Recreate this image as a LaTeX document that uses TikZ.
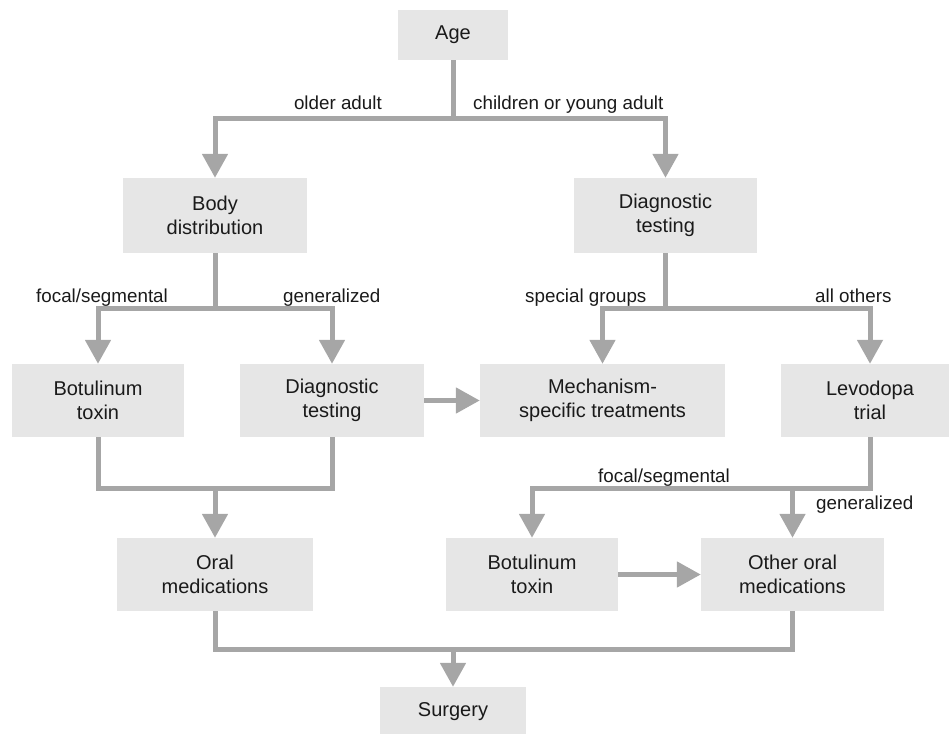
\documentclass[tikz,border=0pt]{standalone}
\usepackage{fontspec}
\setmainfont{Liberation Sans}
\usetikzlibrary{arrows.meta}
\definecolor{boxgray}{HTML}{E6E6E6}
\definecolor{linegray}{HTML}{A6A6A6}
\definecolor{txt}{HTML}{1A1A1A}
\tikzset{
  box/.style={fill=boxgray, inner sep=0pt, align=center, text=txt,
    font=\fontsize{20}{24}\selectfont},
  lbl/.style={inner sep=0pt, text=txt, font=\fontsize{18.8}{22}\selectfont},
  conn/.style={draw=linegray, line width=5pt, line join=miter},
  arr/.style={conn, -{Triangle[width=25pt,length=24pt]}},
}
\begin{document}
\begin{tikzpicture}[x=1pt,y=-1pt]
\useasboundingbox (0,0) rectangle (949,733);
% boxes
\node[box, minimum width=110pt, minimum height=50pt] (age) at (453,35) {Age};
\node[box, minimum width=184pt, minimum height=75pt] (body) at (215,215.5) {Body\\distribution};
\node[box, minimum width=183pt, minimum height=75pt] (diag1) at (665.5,215.5) {Diagnostic\\testing};
\node[box, minimum width=172pt, minimum height=73pt] (botox1) at (98,400.5) {Botulinum\\toxin};
\node[box, minimum width=184pt, minimum height=73pt] (diag2) at (332,400.5) {Diagnostic\\testing};
\node[box, minimum width=245pt, minimum height=73pt] (mech) at (602.5,400.5) {Mechanism-\\specific treatments};
\node[box, minimum width=178pt, minimum height=73pt] (levo) at (870,400.5) {Levodopa\\trial};
\node[box, minimum width=196pt, minimum height=73pt] (oral) at (215,574.5) {Oral\\medications};
\node[box, minimum width=172pt, minimum height=73pt] (botox2) at (532,574.5) {Botulinum\\toxin};
\node[box, minimum width=183pt, minimum height=73pt] (other) at (792.5,574.5) {Other oral\\medications};
\node[box, minimum width=146pt, minimum height=50pt] (surg) at (453,712) {Surgery};
% junctions
\coordinate (j1) at (453,118);
\coordinate (j2) at (215,308);
\coordinate (j3) at (665.5,308);
\coordinate (j4) at (215,488);
\coordinate (j5) at (792.5,488);
\coordinate (j6) at (453,649);
% connectors
\draw[conn] (age.south) -- (j1);
\draw[arr] (j1) -| (body.north);
\draw[arr] (j1) -| (diag1.north);
\draw[conn] (body.south) -- (j2);
\draw[arr] (j2) -| (botox1.north);
\draw[arr] (j2) -| (diag2.north);
\draw[conn] (diag1.south) -- (j3);
\draw[arr] (j3) -| (mech.north);
\draw[arr] (j3) -| (levo.north);
\draw[arr] (diag2.east) -- (mech.west);
\draw[conn] (botox1.south) |- (j4) -| (diag2.south);
\draw[arr] (j4) -- (oral.north);
\draw[arr] (levo.south) |- (j5) -| (botox2.north);
\draw[arr] (j5) -- (other.north);
\draw[arr] (botox2.east) -- (other.west);
\draw[conn] (oral.south) |- (j6) -| (other.south);
\draw[arr] (j6) -- (surg.north);
% labels
\node[lbl, anchor=base east] (l1) at (382,110) {older adult};
\node[lbl, anchor=base west] (l2) at (473,110) {children or young adult};
\node[lbl, anchor=base west] (l3) at (36,302) {focal/segmental};
\node[lbl, anchor=base west] (l4) at (283,302) {generalized};
\node[lbl, anchor=base west] (l5) at (525,302) {special groups};
\node[lbl, anchor=base west] (l6) at (815,302) {all others};
\node[lbl, anchor=base west] (l7) at (598,482) {focal/segmental};
\node[lbl, anchor=base west] (l8) at (816,509) {generalized};
\end{tikzpicture}
\end{document}
